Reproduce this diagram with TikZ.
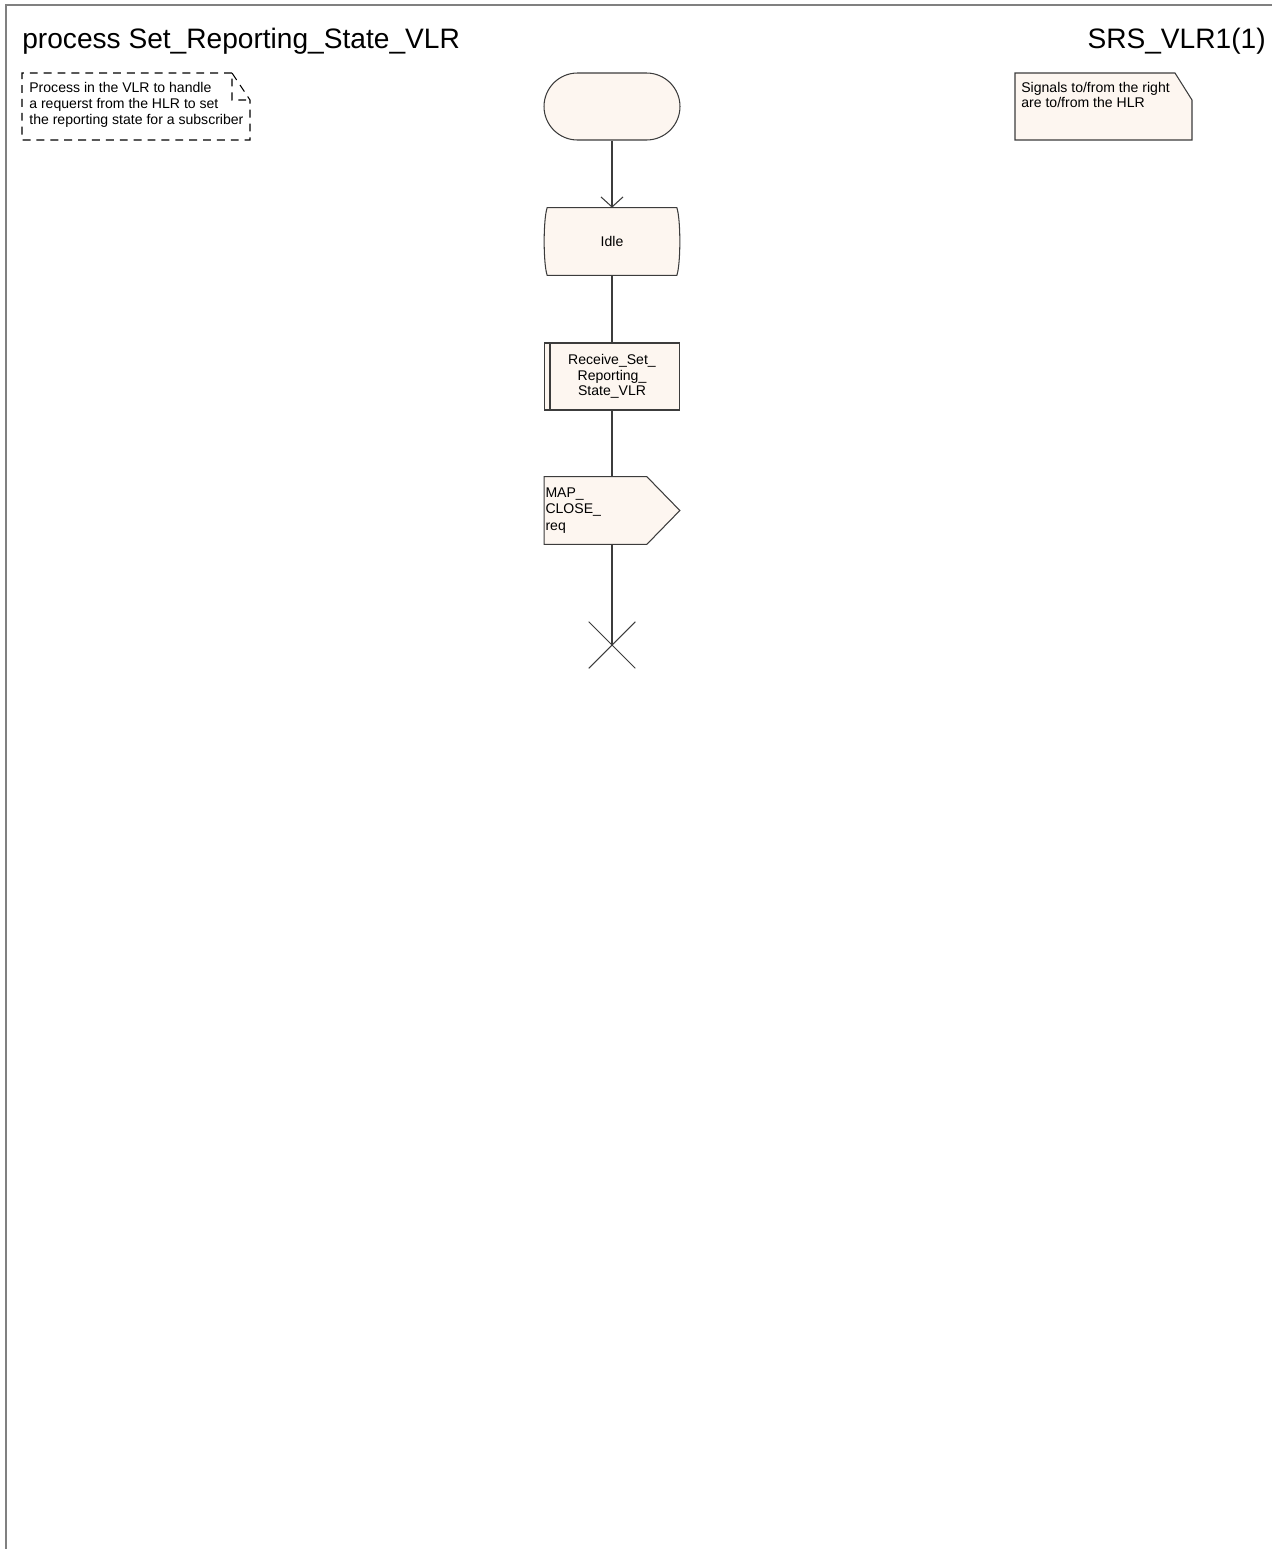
\documentclass[tikz,border=0pt]{standalone}
\usepackage{fontspec}
\setmainfont{Liberation Sans}
\usetikzlibrary{calc,shapes.misc,arrows.meta,positioning,backgrounds}
\definecolor{sdlfill}{RGB}{253,246,240}
\definecolor{sdlline}{RGB}{60,60,60}
\tikzset{
    sdl/.style={draw=sdlline, fill=sdlfill, line width=0.6pt},
    box/.style={minimum width=2.7cm, minimum height=1.34cm, inner sep=0pt, font=\fontsize{8}{8.8}\selectfont, align=center},
    flow/.style={draw=sdlline, line width=0.6pt},
    arrow/.style={flow, -{Straight Barb[length=2mm,width=4.4mm]}},
    frame/.style={draw=gray, line width=1.2pt},
    remark/.style={font=\fontsize{8}{8.8}\selectfont, align=left, inner sep=0pt}
}

\begin{document}
\begin{tikzpicture}[x=0.02cm, y=-0.02cm]
    \useasboundingbox (0,0) rectangle (1277,1549);
    \draw[frame] (6,1549) |- (1272,5);

    % Nodes
    \node[anchor=base west, inner sep=0pt, font=\fontsize{16}{19}\selectfont] (title) at (22,48) {process Set\_Reporting\_State\_VLR};
    \node[anchor=base east, inner sep=0pt, font=\fontsize{16}{19}\selectfont] (page) at (1266,48) {SRS\_VLR1(1)};
    \node[remark, anchor=west, font=\fontsize{8}{9}\selectfont] (cmt) at (29,105) {Process in the VLR to handle\\a requerst from the HLR to set\\the reporting state for a subscriber};
    \node[remark, anchor=west, font=\fontsize{8}{8}\selectfont] (note) at (1021,95) {Signals to/from the right\\are to/from the HLR};

    \node[box, sdl, rounded rectangle, minimum width=2.72cm] (start) at (612,106.5) {};
    \node[box] (idle) at (612,241.5) {Idle};
    \node[box, sdl] (recv) at (612,376.5) {Receive\_Set\_\\Reporting\_\\State\_VLR};
    \node[box, align=left, text width=2.66cm, inner xsep=0.02cm, font=\fontsize{8}{9.6}\selectfont] (close) at (612,510.5) {MAP\_\\CLOSE\_\\req};
    \node[minimum size=0.92cm, inner sep=0pt] (stop) at (612,645) {};

    % shapes
    \begin{scope}[on background layer]
        \draw[dash pattern=on 4.5pt off 3.4pt, line width=0.6pt, draw=black]
            (232,73) -| (22,140) -| (250,100) -- (232,73) -- (232,100) -- (250,100);
        \path[sdl] (1015,73) -- (1175,73) -- (1192,100) |- (1015,140) -- cycle;
        \path[sdl] ($(idle.north west)+(3,0)$) -- ($(idle.north east)+(-3,0)$)
            .. controls ($(idle.east)+(1,-22)$) and ($(idle.east)+(1,22)$) .. ($(idle.south east)+(-3,0)$)
            -- ($(idle.south west)+(3,0)$)
            .. controls ($(idle.west)+(-1,22)$) and ($(idle.west)+(-1,-22)$) .. cycle;
        \path[sdl] (close.north west) -- ($(close.north east)+(-33,0)$) -- (close.east)
            -- ($(close.south east)+(-33,0)$) -- (close.south west) -- cycle;
    \end{scope}
    \draw[flow] ($(recv.north west)+(6,0)$) -- ($(recv.south west)+(6,0)$);

    % edges
    \draw[arrow] (start) -- (idle);
    \draw[flow] (idle) -- (recv);
    \draw[flow] (recv) -- (close);
    \draw[flow] (close) -- (stop.center);
    \draw[flow] (stop.north west) -- (stop.south east);
    \draw[flow] (stop.north east) -- (stop.south west);
\end{tikzpicture}
\end{document}
